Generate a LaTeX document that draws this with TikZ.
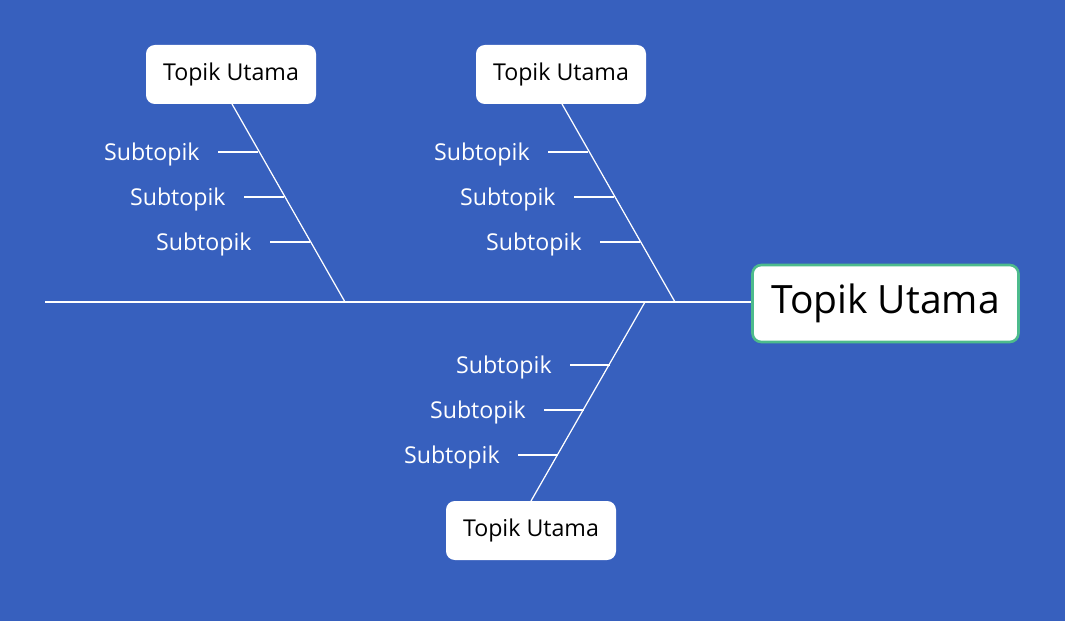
\documentclass[tikz,border=0pt]{standalone}
\usepackage{fontspec}
\setmainfont{Open Sans}
\definecolor{bgblue}{HTML}{3760BE}
\definecolor{headgreen}{HTML}{4DBB8C}
\tikzset{
  topicbox/.style={fill=white, rounded corners=5pt, minimum width=170*0.02cm, minimum height=59*0.02cm, font=\fontsize{13.2}{15}\selectfont},
  subtext/.style={text=white, anchor=east, font=\fontsize{13.2}{15}\selectfont, inner sep=0pt},
  bone/.style={white, line width=0.7pt}
}
\begin{document}
\begin{tikzpicture}[x=0.02cm, y=-0.02cm]
                    \fill[bgblue] (0,0) rectangle (1065,621);
                    \useasboundingbox (0,0) rectangle (1065,621);

                    % spine and head
                    \node[topicbox, draw=headgreen, line width=1.5pt, minimum width=266*0.02cm, minimum height=77*0.02cm, font=\fontsize{22.2}{25}\selectfont] (head) at (885.5,303.5) {Topik Utama};
                    \coordinate (tail) at (45,302);
                    \draw[white, line width=1.2pt] (tail) -- (tail -| head.west);

                    % branches
                    \node[topicbox] (T1) at (231,74.5) {Topik Utama};
                    \node[topicbox] (T2) at (561,74.5) {Topik Utama};
                    \node[topicbox] (T3) at (531,530.5) {Topik Utama};
                    \coordinate (J1) at (345,302);
                    \coordinate (J2) at (675,302);
                    \coordinate (J3) at (645,302);
                    \draw[bone] (232,104) -- (J1);
                    \draw[bone] (562,104) -- (J2);
                    \draw[bone] (531,501) -- (J3);

                    % subtopics
                    \foreach \x/\y in {218/152, 244/197, 270/242, 548/152, 574/197, 600/242, 570/365, 544/410, 518/455} {
                      \draw[bone] (\x,\y) -- ++(40,0);
                      \node[subtext] at (\x-18,\y+2) {Subtopik};
                    }
                \end{tikzpicture}
\end{document}
